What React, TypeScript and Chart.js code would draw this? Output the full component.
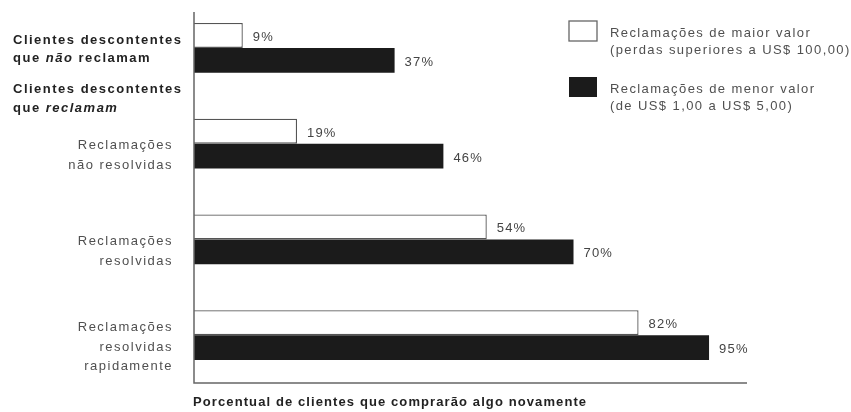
import React, { useEffect, useRef } from "react";
import { Chart, registerables } from "chart.js";

Chart.register(...registerables);

type Seg = { t: string; i?: boolean };

const CATEGORIES = [
  "Clientes descontentes que não reclamam",
  "Reclamações não resolvidas",
  "Reclamações resolvidas",
  "Reclamações resolvidas rapidamente",
];
const CATEGORY_LINES: Seg[][][] = [
  [[{ t: "Clientes descontentes" }], [{ t: "que " }, { t: "não", i: true }, { t: " reclamam" }]],
  [[{ t: "Reclamações" }], [{ t: "não resolvidas" }]],
  [[{ t: "Reclamações" }], [{ t: "resolvidas" }]],
  [[{ t: "Reclamações" }], [{ t: "resolvidas" }], [{ t: "rapidamente" }]],
];
const HEADER_LINES: Seg[][] = [
  [{ t: "Clientes descontentes" }],
  [{ t: "que " }, { t: "reclamam", i: true }],
];
const MAIOR_VALOR = [9, 19, 54, 82];
const MENOR_VALOR = [37, 46, 70, 95];
const SERIES_LABELS = [
  "Reclamações de maior valor (perdas superiores a US$ 100,00)",
  "Reclamações de menor valor (de US$ 1,00 a US$ 5,00)",
];
const LEGEND_LINES = [
  ["Reclamações de maior valor", "(perdas superiores a US$ 100,00)"],
  ["Reclamações de menor valor", "(de US$ 1,00 a US$ 5,00)"],
];
const X_TITLE = "Porcentual de clientes que comprarão algo novamente";
const X_MIN = 0;
const X_MAX = 102;

const FAMILY = '"Liberation Sans", Arial, Helvetica, sans-serif';

function font(bold: boolean, italic: boolean, size: number) {
  return `${italic ? "italic " : ""}${bold ? "bold " : ""}${size}px ${FAMILY}`;
}

function drawRich(
  ctx: CanvasRenderingContext2D,
  segs: Seg[],
  x: number,
  y: number,
  align: "left" | "right",
  bold: boolean,
  size: number,
  spacing: number,
  color: string
) {
  (ctx as any).letterSpacing = `${spacing}px`;
  ctx.textAlign = "left";
  ctx.textBaseline = "middle";
  ctx.fillStyle = color;
  const widths = segs.map((s) => {
    ctx.font = font(bold, !!s.i, size);
    return ctx.measureText(s.t).width;
  });
  const total = widths.reduce((a, b) => a + b, 0);
  let cx = align === "left" ? x : x - total;
  segs.forEach((s, k) => {
    ctx.font = font(bold, !!s.i, size);
    ctx.fillText(s.t, cx, y);
    cx += widths[k];
  });
}

const customPlugin = {
  id: "customDraw",
  afterDraw(chart: any) {
    const ctx: CanvasRenderingContext2D = chart.ctx;
    const { left, right, top, bottom } = chart.chartArea;
    const yScale = chart.scales.y;
    ctx.save();

    // axis lines
    ctx.strokeStyle = "#666";
    ctx.lineWidth = 1.5;
    ctx.beginPath();
    ctx.moveTo(left, top + 12);
    ctx.lineTo(left, bottom);
    ctx.lineTo(right, bottom);
    ctx.stroke();

    // value labels
    chart.data.datasets.forEach((ds: any, di: number) => {
      const meta = chart.getDatasetMeta(di);
      meta.data.forEach((el: any, k: number) => {
        drawRich(ctx, [{ t: `${ds.data[k]}%` }], el.x + 10, el.y + 2, "left", false, 13, 1.2, "#444");
      });
    });

    // category labels
    CATEGORY_LINES.forEach((lines, idx) => {
      const yc = yScale.getPixelForValue(idx);
      const bold = idx === 0;
      const lh = bold ? 18 : 19.5;
      const center = yc + (bold ? 2 : 12);
      const start = center - ((lines.length - 1) * lh) / 2;
      lines.forEach((segs, li) => {
        if (bold) {
          drawRich(ctx, segs, 13, start + li * lh, "left", true, 13, 1.5, "#222");
        } else {
          drawRich(ctx, segs, left - 21, start + li * lh, "right", false, 13, 1.5, "#505050");
        }
      });
    });

    // header between groups
    const y1 = yScale.getPixelForValue(1);
    HEADER_LINES.forEach((segs, li) => {
      drawRich(ctx, segs, 13, y1 - 54 + li * 19, "left", true, 13, 1.5, "#222");
    });

    // legend
    const legendX = 569;
    const legendTops = [21, 77];
    chart.data.datasets.forEach((ds: any, di: number) => {
      const ty = legendTops[di];
      ctx.fillStyle = ds.backgroundColor;
      ctx.fillRect(legendX, ty, 28, 20);
      if (di === 0) {
        ctx.strokeStyle = "#666";
        ctx.lineWidth = 1.3;
        ctx.strokeRect(legendX, ty, 28, 20);
      }
      LEGEND_LINES[di].forEach((line, li) => {
        drawRich(ctx, [{ t: line }], legendX + 41, ty + 12 + li * 17, "left", false, 13, 1.4, "#505050");
      });
    });

    // x title
    drawRich(ctx, [{ t: X_TITLE }], left - 1, bottom + 19, "left", true, 13, 1.1, "#222");

    ctx.restore();
  },
};

export default function App() {
  const ref = useRef<HTMLCanvasElement | null>(null);
  useEffect(() => {
    if (!ref.current) return;
    const chart = new Chart(ref.current, {
      type: "bar",
      data: {
        labels: CATEGORIES,
        datasets: [
          {
            label: SERIES_LABELS[0],
            data: MAIOR_VALOR,
            backgroundColor: "#ffffff",
            borderColor: "#555",
            borderWidth: 1.3,
            borderSkipped: "start",
            categoryPercentage: 0.522,
            barPercentage: 1,
          },
          {
            label: SERIES_LABELS[1],
            data: MENOR_VALOR,
            backgroundColor: "#1b1b1b",
            borderWidth: 0,
            categoryPercentage: 0.522,
            barPercentage: 1,
          },
        ],
      },
      options: {
        indexAxis: "y",
        animation: false,
        responsive: true,
        maintainAspectRatio: false,
        layout: { padding: { left: 194, right: 104, top: 0, bottom: 29 } },
        scales: {
          x: { display: false, min: X_MIN, max: X_MAX },
          y: { display: false, offset: true },
        },
        plugins: {
          legend: { display: false },
          tooltip: { enabled: false },
        },
      } as any,
      plugins: [customPlugin],
    });
    return () => chart.destroy();
  }, []);
  return (
    <div style={{ position: "fixed", left: 0, top: 0, width: 851, height: 412, background: "#fff" }}>
      <canvas ref={ref} />
    </div>
  );
}
